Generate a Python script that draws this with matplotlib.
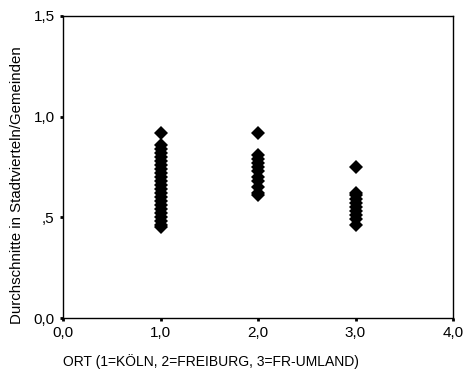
import matplotlib
matplotlib.use('Agg')
from matplotlib import pyplot as plt

plt.rcParams['font.family'] = ['Liberation Sans', 'DejaVu Sans']

# values, one list per ORT group
koeln = [0.92, 0.86, 0.84, 0.82, 0.80, 0.78, 0.76, 0.74, 0.72, 0.70, 0.68, 0.66,
         0.64, 0.62, 0.60, 0.58, 0.56, 0.54, 0.52, 0.50, 0.48, 0.46, 0.45]
freiburg = [0.92, 0.81, 0.79, 0.77, 0.75, 0.73, 0.70, 0.68, 0.65, 0.62, 0.61]
fr_umland = [0.75, 0.62, 0.61, 0.59, 0.57, 0.55, 0.53, 0.51, 0.49, 0.46]
groups = [1.0, 2.0, 3.0]

x_ticks = [0.0, 1.0, 2.0, 3.0, 4.0]
x_labels = ['0,0', '1,0', '2,0', '3,0', '4,0']
y_ticks = [0.0, 0.5, 1.0, 1.5]
y_labels = ['0,0', ',5', '1,0', '1,5']

fig = plt.figure(figsize=(4.67, 3.80), dpi=100)
ax = fig.add_axes([0.135, 0.163, 0.835, 0.795])

for g, vals in zip(groups, [koeln, freiburg, fr_umland]):
    ax.plot([g] * len(vals), vals, linestyle='none', marker='D',
            markersize=7, color='black', markeredgewidth=0)

ax.set_xlim(0, 4)
ax.set_ylim(0, 1.5)
ax.set_xticks(x_ticks)
ax.set_xticklabels(x_labels)
ax.set_yticks(y_ticks)
ax.set_yticklabels(y_labels)
ax.tick_params(length=2, width=2, labelsize=11, pad=4)

for s in ax.spines.values():
    s.set_linewidth(1)

ax.set_xlabel('ORT (1=KÖLN, 2=FREIBURG, 3=FR-UMLAND)', fontsize=10)
ax.xaxis.set_label_coords(0.0, -0.12)
ax.xaxis.label.set_horizontalalignment('left')
ax.set_ylabel('Durchschnitte in Stadtvierteln/Gemeinden', fontsize=10.8)
ax.yaxis.set_label_coords(-0.10, 0.44)

fig.savefig('out.png', dpi=100)
